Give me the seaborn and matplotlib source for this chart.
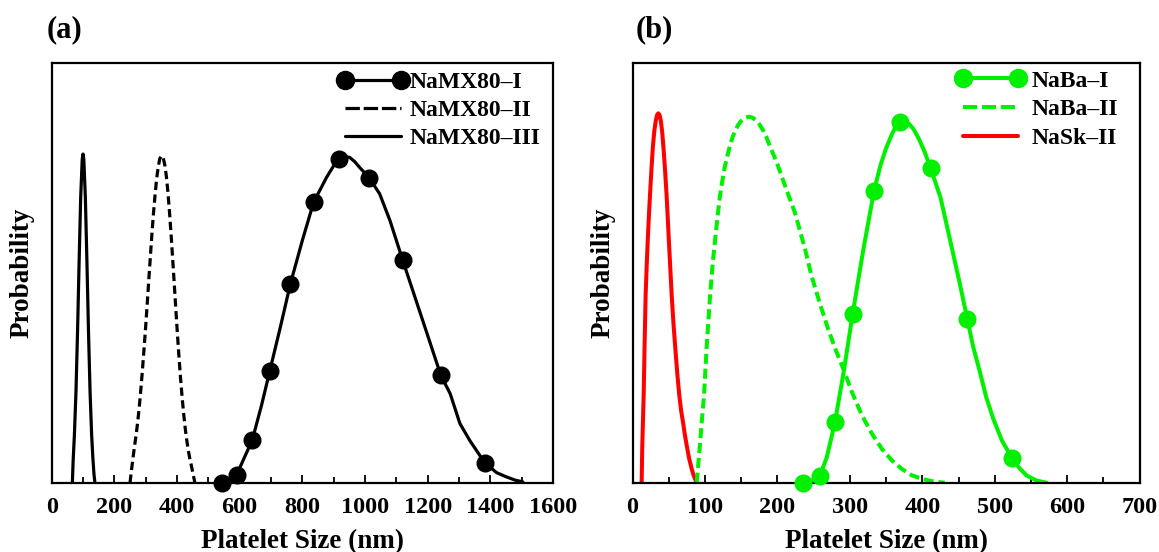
import numpy as np
import pandas as pd
import seaborn as sns
import matplotlib
matplotlib.use("Agg")
import matplotlib.pyplot as plt
from matplotlib.lines import Line2D
from matplotlib.ticker import MultipleLocator
from matplotlib import font_manager as fm
from matplotlib.legend_handler import HandlerLine2D
import matplotlib.patheffects as pe

# ---------------- data ----------------
# Panel (a)
mx1_curve_x = [545, 560, 575, 590, 615, 640, 670, 696, 730, 762, 800, 836, 877, 900, 917, 935, 951,
               967, 983, 1013, 1047, 1080, 1120, 1160, 1200, 1242, 1272, 1303, 1335, 1382, 1420,
               1451, 1480, 1504]
mx1_curve_y = [0.0, 0.004, 0.01, 0.018, 0.06, 0.101, 0.185, 0.266, 0.371, 0.474, 0.577, 0.668,
               0.727, 0.755, 0.771, 0.777, 0.775, 0.765, 0.751, 0.727, 0.688, 0.624, 0.531, 0.441,
               0.351, 0.256, 0.212, 0.141, 0.10, 0.048, 0.024, 0.014, 0.006, 0.002]
mx1_pts_x = [545, 590, 640, 696, 762, 836, 917, 1013, 1120, 1242, 1382]
mx1_pts_y = [0.0, 0.018, 0.101, 0.266, 0.474, 0.668, 0.771, 0.727, 0.531, 0.256, 0.048]

mx2_x = [250, 255, 260, 265, 270, 275, 280, 285, 290, 295, 300, 305, 310, 315, 320, 325, 330, 335,
         340, 345, 351, 356, 361, 366, 371, 376, 381, 386, 391, 396, 401, 406, 411, 416, 421, 426,
         431, 436, 441, 446, 451, 457]
mx2_y = [0.0, 0.032, 0.062, 0.09, 0.117, 0.148, 0.184, 0.226, 0.272, 0.321, 0.372, 0.427, 0.484,
         0.539, 0.594, 0.643, 0.686, 0.724, 0.752, 0.772, 0.779, 0.774, 0.757, 0.73, 0.692, 0.645,
         0.592, 0.535, 0.476, 0.416, 0.358, 0.303, 0.252, 0.206, 0.166, 0.131, 0.102, 0.077,
         0.057, 0.04, 0.022, 0.0]

mx3_x = [66, 68.5, 72.5, 77.5, 82.5, 87.5, 92.5, 97.5, 100, 102.5, 107.5, 112.5, 117.5, 122.5,
         127.5, 131.5, 135, 138]
mx3_y = [0.0, 0.053, 0.114, 0.216, 0.359, 0.525, 0.679, 0.771, 0.783, 0.771, 0.679, 0.525, 0.359,
         0.216, 0.114, 0.058, 0.02, 0.0]

# Panel (b)
ba1_curve_x = [235.6, 247, 258.7, 268, 279.4, 292, 303.8, 318, 333.3, 342, 350, 358, 364, 369.2,
               375, 381, 388, 395, 403, 411.5, 425, 440, 451, 462, 470, 479.6, 488, 498, 510,
               523.8, 533, 544, 558, 571.7]
ba1_curve_y = [0.0, 0.005, 0.017, 0.06, 0.144, 0.27, 0.402, 0.55, 0.695, 0.755, 0.797, 0.83, 0.851,
               0.86, 0.862, 0.856, 0.842, 0.82, 0.789, 0.749, 0.68, 0.565, 0.48, 0.391, 0.325,
               0.263, 0.205, 0.152, 0.1, 0.059, 0.037, 0.017, 0.005, 0.0]
ba1_pts_x = [235.6, 258.7, 279.4, 303.8, 333.3, 369.2, 411.5, 462, 523.8]
ba1_pts_y = [0.0, 0.017, 0.144, 0.402, 0.695, 0.86, 0.749, 0.391, 0.059]

ba2_x = [88.5, 91, 93, 95.5, 98.6, 102.5, 107, 110.5, 114, 117.5, 120.7, 124, 127, 131, 134.5,
         138, 142, 146, 150, 155, 160.8, 165, 170, 175, 180, 185, 190, 199, 212, 224, 238, 247,
         258, 270, 280, 291, 303, 316.5, 330, 344, 358, 371.5, 385, 399, 415, 431]
ba2_y = [0.0, 0.05, 0.09, 0.145, 0.208, 0.33, 0.446, 0.52, 0.58, 0.637, 0.684, 0.72, 0.75, 0.78,
         0.803, 0.823, 0.84, 0.853, 0.862, 0.869, 0.872, 0.87, 0.864, 0.854, 0.84, 0.822, 0.80,
         0.763, 0.70, 0.644, 0.557, 0.493, 0.43, 0.366, 0.318, 0.271, 0.215, 0.161, 0.118,
         0.081, 0.053, 0.033, 0.018, 0.0095, 0.003, 0.0]

sk2_x = [12.5, 13.4, 14.3, 15.3, 16.6, 18, 19.5, 21, 22.5, 24, 26, 28, 30, 32, 33.8, 35.5, 37.3,
         39, 41, 43, 45, 47, 48.5, 50, 52, 54, 56.5, 59, 61.8, 64.5, 67, 70, 72.3, 74.7, 78, 81.6,
         84, 86, 88.5]
sk2_y = [0.0, 0.089, 0.145, 0.208, 0.33, 0.446, 0.518, 0.58, 0.635, 0.684, 0.745, 0.8, 0.838,
         0.862, 0.876, 0.88, 0.876, 0.862, 0.833, 0.79, 0.74, 0.684, 0.632, 0.58, 0.513, 0.446,
         0.378, 0.32, 0.258, 0.208, 0.172, 0.14, 0.113, 0.089, 0.058, 0.033, 0.019, 0.01, 0.0]

labels_a = ["NaMX80–I", "NaMX80–II", "NaMX80–III"]
labels_b = ["NaBa–I", "NaBa–II", "NaSk–II"]
xlabel = "Platelet Size (nm)"
ylabel = "Probability"

# ---------------- style ----------------
sns.set_style("white")
FAMILY = ["Liberation Serif", "DejaVu Serif"]
plt.rcParams["font.family"] = FAMILY
plt.rcParams["font.weight"] = "bold"
plt.rcParams["axes.labelweight"] = "bold"
plt.rcParams["text.color"] = "black"
plt.rcParams["axes.labelcolor"] = "black"
plt.rcParams["xtick.color"] = "black"
plt.rcParams["xtick.labelcolor"] = "black"

# Embolden with a thin stroke if no real bold face is found
bold_file = fm.findfont(fm.FontProperties(family="Liberation Serif", weight="bold"))
has_bold = "bold" in bold_file.lower()
EFF = [] if has_bold else [pe.withStroke(linewidth=0.9, foreground="black")]

BLACK = "#000000"
GREEN = "#00f000"
RED = "#ff0000"

fig = plt.figure(figsize=(11.59, 5.52), dpi=100)
ax_a = fig.add_axes([0.0446, 0.1255, 0.4325, 0.7605])
ax_b = fig.add_axes([0.5458, 0.1255, 0.4375, 0.7605])

lw_k = 2.3
lw_c = 2.9
ms = 13


def line(ax, x, y, color, lw, ls="-"):
    sns.lineplot(x=x, y=y, ax=ax, color=color, lw=lw, linestyle=ls, sort=False,
                 estimator=None, legend=False, solid_joinstyle="round", dash_capstyle="butt")


# Panel (a)
line(ax_a, mx3_x, mx3_y, BLACK, lw_k)
line(ax_a, mx2_x, mx2_y, BLACK, lw_k, (0, (2.6, 1.4)))
line(ax_a, mx1_curve_x, mx1_curve_y, BLACK, lw_k)
sns.scatterplot(x=mx1_pts_x, y=mx1_pts_y, ax=ax_a, color=BLACK, s=ms ** 2, edgecolor=BLACK,
                linewidth=0, legend=False, clip_on=False, zorder=5)

# Panel (b)
line(ax_b, sk2_x, sk2_y, RED, lw_c)
line(ax_b, ba2_x, ba2_y, GREEN, lw_c, (0, (2.5, 1.2)))
line(ax_b, ba1_curve_x, ba1_curve_y, GREEN, lw_c)
sns.scatterplot(x=ba1_pts_x, y=ba1_pts_y, ax=ax_b, color=GREEN, s=ms ** 2, edgecolor=GREEN,
                linewidth=0, legend=False, clip_on=False, zorder=5)

for ax, xmax, major, minor in [(ax_a, 1600, 200, 100), (ax_b, 700, 100, 50)]:
    ax.set_xlim(0, xmax)
    ax.set_ylim(0, 1.0)
    ax.xaxis.set_major_locator(MultipleLocator(major))
    ax.xaxis.set_minor_locator(MultipleLocator(minor))
    ax.set_yticks([])
    ax.tick_params(axis="x", which="major", direction="in", length=6, width=1.3,
                   labelsize=17.5, pad=10, bottom=True, top=False, colors="black",
                   labelcolor="black")
    ax.tick_params(axis="x", which="minor", direction="in", length=4, width=1.3,
                   bottom=True, top=False)
    for lab in ax.get_xticklabels():
        lab.set_fontweight("bold")
        lab.set_path_effects(EFF)
    for sp in ax.spines.values():
        sp.set_visible(True)
        sp.set_color("black")
        sp.set_linewidth(1.6)
    xl = ax.set_xlabel(xlabel, fontsize=19.5, fontweight="bold", labelpad=8, color="black")
    yl = ax.set_ylabel(ylabel, fontsize=19.5, fontweight="bold", labelpad=12, color="black")
    xl.set_path_effects(EFF)
    yl.set_path_effects(EFF)

fig.text(0.040, 0.947, "(a)", fontsize=22, fontweight="bold", va="center", ha="left",
         color="black", path_effects=EFF)
fig.text(0.548, 0.947, "(b)", fontsize=22, fontweight="bold", va="center", ha="left",
         color="black", path_effects=EFF)

# Legends
hm = {Line2D: HandlerLine2D(marker_pad=0)}
h_a = [
    Line2D([], [], color=BLACK, lw=lw_k, marker="o", ms=ms, mfc=BLACK, mec=BLACK),
    Line2D([], [], color=BLACK, lw=lw_k, linestyle=(0, (4.5, 1.2))),
    Line2D([], [], color=BLACK, lw=lw_k),
]
leg_a = ax_a.legend(h_a, labels_a, loc="upper right", bbox_to_anchor=(0.99, 0.997),
                    frameon=False, numpoints=2, fontsize=17, handlelength=2.35,
                    handletextpad=0.4, labelspacing=0.28, borderaxespad=0.1, borderpad=0.2,
                    handler_map=hm)
h_b = [
    Line2D([], [], color=GREEN, lw=lw_c, marker="o", ms=ms, mfc=GREEN, mec=GREEN),
    Line2D([], [], color=GREEN, lw=lw_c, linestyle=(0, (3.5, 1.2))),
    Line2D([], [], color=RED, lw=lw_c),
]
leg_b = ax_b.legend(h_b, labels_b, loc="upper right", bbox_to_anchor=(0.971, 1.0),
                    frameon=False, numpoints=2, fontsize=17, handlelength=2.35,
                    handletextpad=0.55, labelspacing=0.31, borderaxespad=0.1, borderpad=0.2,
                    handler_map=hm)
for leg in (leg_a, leg_b):
    for t in leg.get_texts():
        t.set_fontweight("bold")
        t.set_color("black")
        t.set_path_effects(EFF)

fig.savefig("out.png", dpi=100)
